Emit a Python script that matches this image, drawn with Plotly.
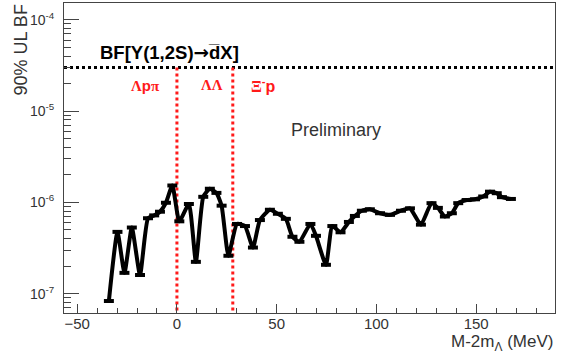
import plotly.graph_objects as go

# Data (M - 2m_Lambda in MeV, 90% UL BF)
mass_mev = [-34.1, -29.8, -26.3, -22.6, -18.5, -14.5, -11.4, -8.5, -5.5, -2.3,
            1.2, 6.0, 9.5, 13.2, 16.5, 19.8, 22.4, 25.8, 30.1, 34.1,
            38.1, 41.6, 46.6, 50.6, 54.6, 57.9, 61.4, 66.9, 69.7, 74.7,
            77.9, 82.0, 86.2, 89.2, 92.7, 96.7, 101.8, 106.8, 112.3, 116.8,
            122.3, 127.6, 130.8, 134.3, 137.8, 141.0, 145.2, 149.4, 153.5, 156.9,
            160.3, 162.9, 167.4]
ul_bf = [8.3e-8, 4.75e-7, 1.69e-7, 5.3e-7, 1.6e-7, 6.7e-7, 7.2e-7, 7.9e-7, 9.9e-7, 1.53e-6,
         6.2e-7, 9.6e-7, 2.23e-7, 1.15e-6, 1.41e-6, 1.27e-6, 9.2e-7, 2.6e-7, 5.8e-7, 5.5e-7,
         3.2e-7, 6.4e-7, 8.3e-7, 7.5e-7, 6.6e-7, 4.2e-7, 3.7e-7, 5.8e-7, 4.3e-7, 2.07e-7,
         5.5e-7, 4.7e-7, 6.1e-7, 7.1e-7, 8.1e-7, 8.4e-7, 7.6e-7, 7.3e-7, 8.1e-7, 8.6e-7,
         5.7e-7, 9.8e-7, 8.7e-7, 7.0e-7, 7.6e-7, 9.8e-7, 1.06e-6, 1.08e-6, 1.16e-6, 1.31e-6,
         1.26e-6, 1.14e-6, 1.09e-6]
half_bin = [2.5] * len(mass_mev)

dbar_bf = 3e-5            # BF[Y(1,2S) -> dbar X]
thresholds = [0.0, 28.0]  # Lambda-Lambda and Xi- p thresholds
x_range = [-56.6, 189.5]
y_log_range = [-7.212, -3.816]

x_ticks = [-50, 0, 50, 100, 150]
y_ticks = [1e-7, 1e-6, 1e-5, 1e-4]
y_tick_text = ["10<sup>-7</sup>", "10<sup>-6</sup>", "10<sup>-5</sup>", "10<sup>-4</sup>"]
y_minor = [m * 10.0 ** e for e in range(-8, -3) for m in range(2, 10)]

FONT = "Liberation Sans, Arial, Helvetica, sans-serif"
SERIF = "Liberation Serif, Times New Roman, serif"
RED = "#ff1a1a"

fig = go.Figure()

# horizontal dbar line
fig.add_trace(go.Scatter(x=x_range, y=[dbar_bf, dbar_bf], mode="lines",
                         line=dict(color="black", width=3, dash="dot"),
                         hoverinfo="skip", showlegend=False))
# threshold lines
for t in thresholds:
    fig.add_trace(go.Scatter(x=[t, t], y=[dbar_bf, 1e-8], mode="lines",
                             line=dict(color=RED, width=3, dash="dot"),
                             hoverinfo="skip", showlegend=False))

# UL curve
fig.add_trace(go.Scatter(x=mass_mev, y=ul_bf, mode="lines",
                         line=dict(color="black", width=4, shape="spline", smoothing=0.5),
                         error_x=dict(type="data", array=half_bin, visible=True,
                                      color="black", thickness=4, width=0),
                         showlegend=False))

L, R, T, B = 64, 6, 3, 43
W, H = 561, 356
pw, ph = W - L - R, H - T - B


def px(xp):
    return (xp - L) / pw


def py(yp):
    return (H - B - yp) / ph


def serif(s):
    return "<span style='font-family:%s'>%s</span>" % (SERIF, s)


annotations = [
    dict(text="<b>BF[\u03a5(1,2S)<span style='font-family:DejaVu Sans'>\u2192</span>d\u0305X]</b>",
         x=px(98), y=py(52), xanchor="left",
         yanchor="middle", font=dict(size=18.5, color="black", family=FONT)),
    dict(text="<b>" + serif("\u039b") + "p" + serif("\u03c0") + "</b>", x=px(129), y=py(85),
         xanchor="left", yanchor="middle", font=dict(size=15, color=RED, family=FONT)),
    dict(text="<b>" + serif("\u039b\u039b") + "</b>", x=px(199), y=py(85), xanchor="left",
         yanchor="middle", font=dict(size=15, color=RED, family=FONT)),
    dict(text="<b>" + serif("\u039e") + "<sup>-</sup>p</b>", x=px(249), y=py(85), xanchor="left",
         yanchor="middle", font=dict(size=16, color=RED, family=FONT)),
    dict(text="Preliminary", x=px(289), y=py(130), xanchor="left", yanchor="middle",
         font=dict(size=18, color="#333333", family=FONT)),
    dict(text="90% UL BF", x=px(20), y=py(3), xanchor="center", yanchor="top", textangle=-90,
         font=dict(size=18, color="#333333", family=FONT)),
    dict(text="M-2m<sub>\u039b</sub> (MeV)", x=1.0, y=py(343), xanchor="right", yanchor="middle",
         font=dict(size=17, color="#333333", family=FONT)),
]
for a in annotations:
    a.update(xref="paper", yref="paper", showarrow=False)

fig.update_layout(
    width=W, height=H,
    margin=dict(l=L, r=R, t=T, b=B),
    paper_bgcolor="white", plot_bgcolor="white",
    font=dict(family=FONT, size=14, color="#333333"),
    annotations=annotations,
    xaxis=dict(range=x_range, tickvals=x_ticks, ticks="inside", ticklen=9, tickwidth=1,
               tickcolor="#444", showline=True, linecolor="#444", linewidth=1, mirror=True,
               showgrid=False, zeroline=False, automargin=False, ticklabelstandoff=-3,
               minor=dict(ticks="inside", ticklen=5, dtick=10, tick0=0, tickcolor="#444", showgrid=False),
               tickfont=dict(size=15, color="#333333")),
    yaxis=dict(type="log", range=y_log_range, tickvals=y_ticks, ticktext=y_tick_text,
               ticks="inside", ticklen=15, tickwidth=1, tickcolor="#444", showline=True,
               linecolor="#444", linewidth=1, mirror=True, showgrid=False, zeroline=False,
               automargin=False, ticklabelstandoff=6,
               minor=dict(ticks="inside", ticklen=7, tickvals=y_minor, tickcolor="#444", showgrid=False),
               tickfont=dict(size=14, color="#333333")),
)

fig.write_html("out.html", config={"displayModeBar": False},
               post_script="document.body.style.margin='0';document.body.style.overflow='hidden';")
